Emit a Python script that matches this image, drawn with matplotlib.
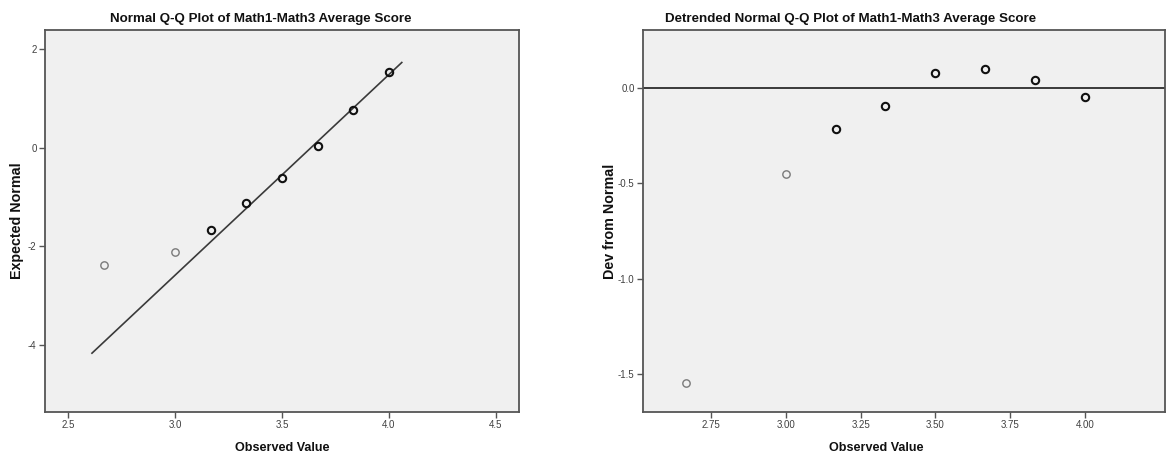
"""Normal Q-Q / Detrended Normal Q-Q plot of Math1-Math3 average score (SPSS style)."""
import matplotlib
matplotlib.use("Agg")
import matplotlib.pyplot as plt

plt.rcParams["font.family"] = ["Liberation Sans", "DejaVu Sans"]
plt.rcParams["axes.unicode_minus"] = False

# --- data ---
observed = [2.667, 3.0, 3.167, 3.333, 3.5, 3.667, 3.833, 4.0]
expected = [-2.38, -2.11, -1.675, -1.117, -0.62, 0.04, 0.77, 1.54]
deviation = [-1.544, -0.453, -0.218, -0.096, 0.077, 0.10, 0.04, -0.047]
point_colors = ["#7a7a7a", "#7a7a7a", "#111111", "#111111", "#111111", "#111111", "#111111", "#111111"]
line_x = [2.61, 4.061]
line_y = [-4.175, 1.73]

left_xticks = [2.5, 3.0, 3.5, 4.0, 4.5]
left_yticks = [-4, -2, 0, 2]
right_xticks = [2.75, 3.00, 3.25, 3.50, 3.75, 4.00]
right_yticks = [-1.5, -1.0, -0.5, 0.0]

W, H = 1166, 457
fig = plt.figure(figsize=(W / 100, H / 100), dpi=100)


def px_axes(x0, y0, x1, y1):
    return fig.add_axes([x0 / W, 1 - y1 / H, (x1 - x0) / W, (y1 - y0) / H])


def style(ax):
    ax.set_facecolor("#f0f0f0")
    for s in ax.spines.values():
        s.set_color("#555555"); s.set_linewidth(1.3)
    ax.tick_params(direction="out", length=4, width=1, color="#555555",
                   labelsize=7, labelcolor="#404040", pad=2)


def scatter(ax, xs, ys):
    for x, y, c in zip(xs, ys, point_colors):
        lw = 1.0 if c == "#7a7a7a" else 1.5
        ax.plot(x, y, "o", ms=5.3, mfc="none", mec=c, mew=lw, zorder=3)


a1 = px_axes(45, 30, 519, 412)
style(a1)
a1.plot(line_x, line_y, color="#3a3a3a", lw=1.2, zorder=2)
scatter(a1, observed, expected)
a1.set_xlim(2.39, 4.61); a1.set_ylim(-5.37, 2.39)
a1.set_xticks(left_xticks); a1.set_xticklabels([f"{v:.1f}" for v in left_xticks])
a1.set_yticks(left_yticks)

a2 = px_axes(643, 30, 1165, 412)
style(a2)
a2.axhline(0, color="#3a3a3a", lw=1.4, zorder=2)
scatter(a2, observed, deviation)
a2.set_xlim(2.522, 4.268); a2.set_ylim(-1.697, 0.302)
a2.set_xticks(right_xticks); a2.set_xticklabels([f"{v:.2f}" for v in right_xticks])
a2.set_yticks(right_yticks); a2.set_yticklabels([f"{v:.1f}" for v in right_yticks])

tk = dict(fontweight="bold", color="#111111", ha="center", va="center")
fig.text(261 / W, 1 - 19 / H, "Normal Q-Q Plot of Math1-Math3 Average Score", fontsize=9.6, **tk)
fig.text(851 / W, 1 - 19 / H, "Detrended Normal Q-Q Plot of Math1-Math3 Average Score", fontsize=9.6, **tk)
fig.text(282 / W, 1 - 448 / H, "Observed Value", fontsize=9.1, **tk)
fig.text(876 / W, 1 - 448 / H, "Observed Value", fontsize=9.1, **tk)
fig.text(17 / W, 1 - 221 / H, "Expected Normal", rotation=90, fontsize=10.3, **tk)
fig.text(610 / W, 1 - 221 / H, "Dev from Normal", rotation=90, fontsize=10.3, **tk)

fig.savefig("out.png", dpi=100)
